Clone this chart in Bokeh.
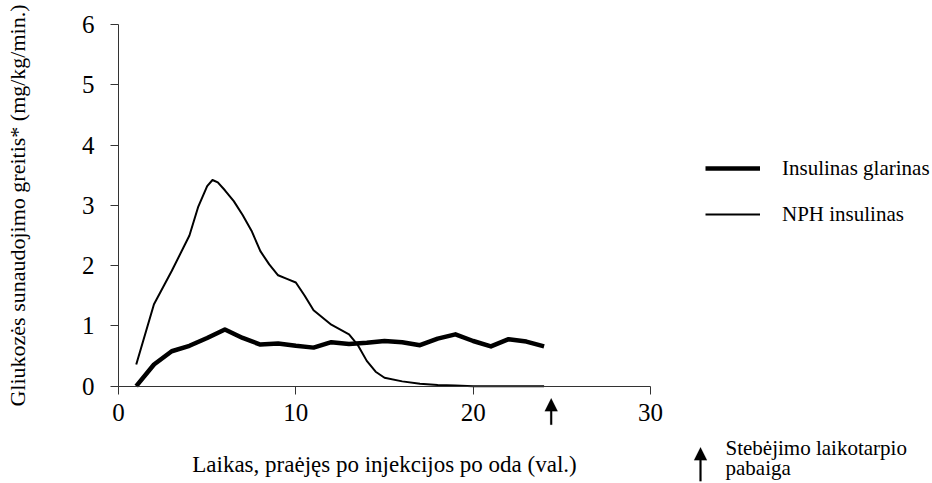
from bokeh.plotting import figure
from bokeh.models import Range1d, Legend, LegendItem, Label, PolyAnnotation, FixedTicker
from bokeh.embed import file_html
from bokeh.resources import INLINE

# ---- data ----
hours_glargine = list(range(1, 25))
glargine = [0.00, 0.36, 0.58, 0.67, 0.80, 0.94, 0.80, 0.69, 0.71, 0.67, 0.64, 0.73,
            0.70, 0.72, 0.75, 0.73, 0.68, 0.79, 0.86, 0.75, 0.66, 0.78, 0.74, 0.66]

hours_nph = [1, 2, 3, 4, 4.5, 5, 5.3, 5.6, 6, 6.5, 7, 7.5, 8, 8.5, 9, 9.5, 10, 10.5, 11,
             12, 13, 13.5, 14, 14.5, 15, 16, 17, 18, 19, 20, 21, 22, 23, 24]
nph = [0.36, 1.36, 1.91, 2.50, 2.98, 3.32, 3.42, 3.38, 3.25, 3.07, 2.84, 2.58, 2.24, 2.02,
       1.84, 1.78, 1.72, 1.50, 1.26, 1.02, 0.86, 0.68, 0.42, 0.24, 0.14, 0.08, 0.04, 0.02,
       0.01, 0.00, 0.00, 0.00, 0.00, 0.00]

x_ticks = [0, 10, 20, 30]
y_ticks = [0, 1, 2, 3, 4, 5, 6]

series_names = ["Insulinas glarinas", "NPH insulinas"]
x_title = "Laikas, praėjęs po injekcijos po oda (val.)"
y_title = "Gliukozės sunaudojimo greitis* (mg/kg/min.)"
note_lines = ["Stebėjimo laikotarpio", "pabaiga"]
observation_end = 24.4

FONT = "Liberation Serif"
AX = "#333333"

# canvas and where the axes sit on it (pixels)
W, H = 932, 483
AX_L, AX_R, AX_T, AX_B = 118.0, 650.0, 24.0, 385.7
X0, X1, Y0, Y1 = 0, 30, 0, 6
px_x = (X1 - X0) / (AX_R - AX_L)      # data units per pixel
px_y = (Y1 - Y0) / (AX_B - AX_T)

# the frame covers the whole canvas; the axes are pinned at x=0 / y=0
x_range = Range1d(X0 - AX_L * px_x, X1 + (W - AX_R) * px_x)
y_range = Range1d(Y0 - (H - AX_B) * px_y, Y1 + AX_T * px_y)

p = figure(width=W, height=H, output_backend="svg", toolbar_location=None, title=None,
           x_range=x_range, y_range=y_range,
           min_border_left=0, min_border_right=0, min_border_top=0, min_border_bottom=0)

p.xgrid.grid_line_color = None
p.ygrid.grid_line_color = None
p.outline_line_color = None
p.background_fill_color = "white"
p.border_fill_color = "white"

p.xaxis.ticker = FixedTicker(ticks=x_ticks)
p.yaxis.ticker = FixedTicker(ticks=y_ticks)
p.xaxis.fixed_location = Y0
p.yaxis.fixed_location = X0
p.xaxis.bounds = (X0, X1)
p.yaxis.bounds = (Y0, Y1)

for ax in (p.xaxis[0], p.yaxis[0]):
    ax.axis_line_color = AX
    ax.axis_line_width = 1
    ax.major_tick_line_color = AX
    ax.major_tick_out = 8
    ax.major_tick_in = 0
    ax.minor_tick_line_color = None
    ax.major_label_text_font = FONT
    ax.major_label_text_font_size = "25px"
    ax.major_label_text_color = "black"
    ax.axis_label_text_font = FONT
    ax.axis_label_text_font_style = "normal"
    ax.axis_label_text_color = "black"

p.xaxis.axis_label = x_title
p.yaxis.axis_label = y_title
p.xaxis.axis_label_text_font_size = "23px"
p.yaxis.axis_label_text_font_size = "22px"
p.xaxis.major_label_standoff = 10
p.xaxis.axis_label_standoff = 27
p.yaxis.major_label_standoff = 16
p.yaxis.axis_label_standoff = 49

r_nph = p.line(hours_nph, nph, line_color="black", line_width=2, line_join="round")
r_gla = p.line(hours_glargine, glargine, line_color="black", line_width=4.5, line_join="round")

legend = Legend(items=[LegendItem(label=series_names[0], renderers=[r_gla]),
                       LegendItem(label=series_names[1], renderers=[r_nph])],
                location=(705, 256), orientation="vertical", padding=0, margin=0, spacing=20,
                glyph_width=55, glyph_height=26, label_height=26, label_standoff=22,
                label_text_font=FONT, label_text_font_size="21px", label_text_color="black",
                border_line_color=None, background_fill_alpha=0)
p.add_layout(legend)


def arrow_poly(xc, y_tip, y_tail, head_w=13, head_h=13, shaft_w=2):
    hw, sw, hh = head_w / 2 * px_x, shaft_w / 2 * px_x, head_h * px_y
    xs = [xc - sw, xc - sw, xc - hw, xc, xc + hw, xc + sw, xc + sw]
    ys = [y_tail, y_tip - hh, y_tip - hh, y_tip, y_tip - hh, y_tip - hh, y_tail]
    return PolyAnnotation(xs=xs, ys=ys, fill_color="black", fill_alpha=1,
                          line_color="black", line_width=0.5)


p.add_layout(arrow_poly(observation_end, -0.199, -0.64))
p.add_layout(arrow_poly(32.82, -1.011, -1.575))

p.add_layout(Label(x=34.23, y=-1.026, text=note_lines[0], text_font=FONT,
                   text_font_size="21px", text_baseline="middle", text_color="black"))
p.add_layout(Label(x=34.23, y=-1.358, text=note_lines[1], text_font=FONT,
                   text_font_size="21px", text_baseline="middle", text_color="black"))

open("out.html", "w").write(file_html(p, INLINE))
